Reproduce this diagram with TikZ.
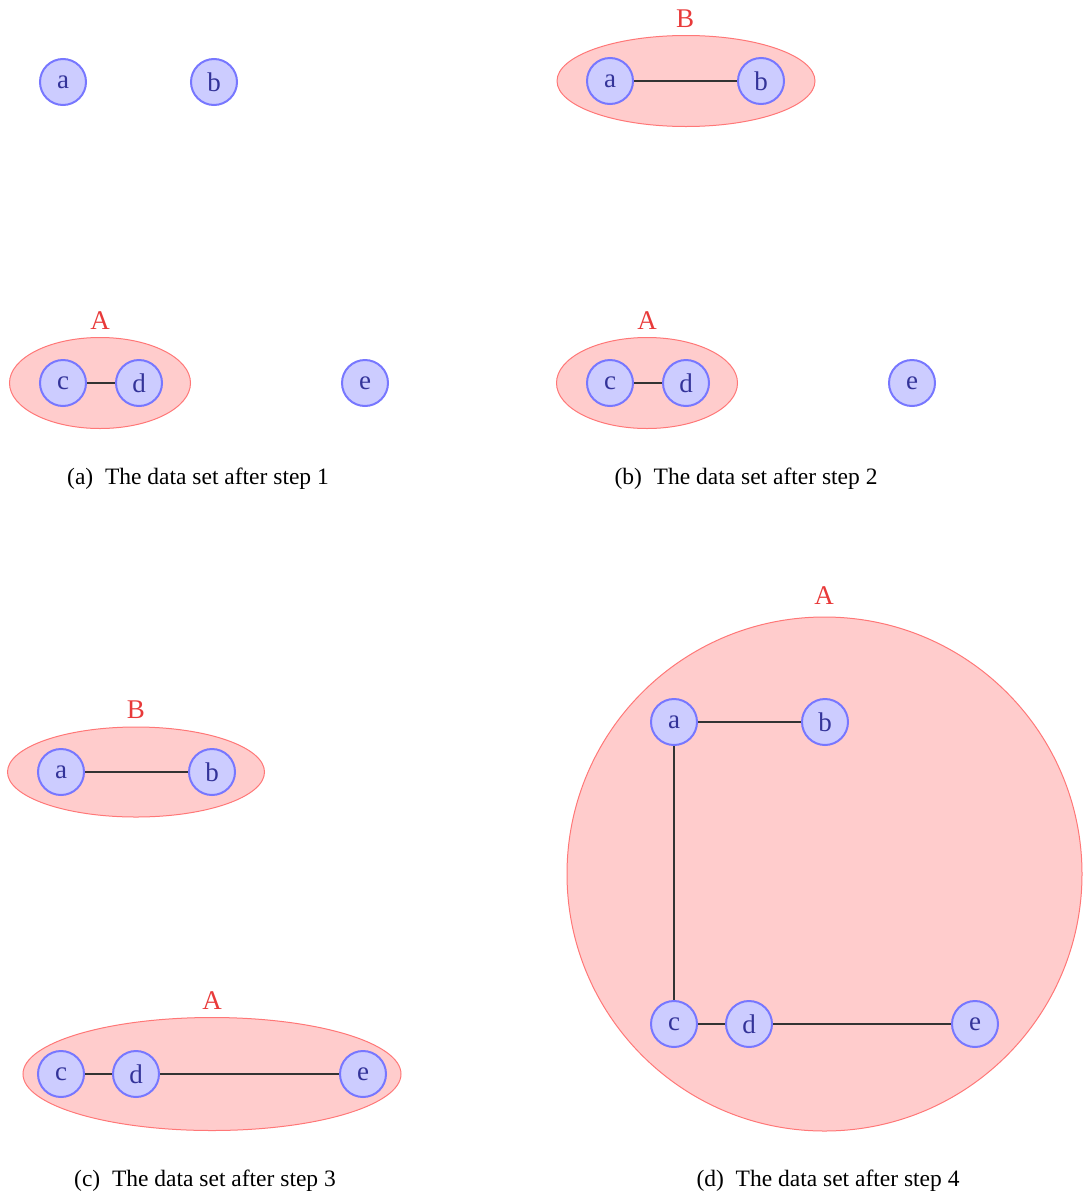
\documentclass[tikz,border=0pt]{standalone}
\usepackage{fontspec}
\setmainfont{Liberation Serif}
\usetikzlibrary{shapes.geometric}
\definecolor{nfill}{HTML}{CCCCFF}
\definecolor{ndraw}{HTML}{7777FF}
\definecolor{ntext}{HTML}{333399}
\definecolor{cfill}{HTML}{FFCCCC}
\definecolor{cdraw}{HTML}{FF7777}
\definecolor{clabel}{HTML}{E83A3A}
\tikzset{
  vtx/.style={circle, draw=ndraw, fill=nfill, line width=2pt, minimum size=46pt, inner sep=0pt, text=ntext, font=\fontsize{27}{30}\selectfont},
  clus/.style={ellipse, draw=cdraw, fill=cfill, line width=1pt, inner sep=0pt},
  clab/.style={text=clabel, font=\fontsize{27}{30}\selectfont},
  link/.style={draw=black!80, line width=1.3pt},
  captext/.style={font=\fontsize{23.5}{26}\selectfont}
}
\begin{document}
\begin{tikzpicture}[x=1pt,y=-1pt]
\useasboundingbox (0,0) rectangle (1086,1197);
% ---------- panel (a)
\node[clus, minimum width=181pt, minimum height=91pt] (aA) at (100,383) {};
\node[clab] (aAl) at (100,321) {A};
\node[vtx] (aa) at (63,82) {a};
\node[vtx] (ab) at (214,82) {b};
\node[vtx] (ac) at (63,383) {c};
\node[vtx] (ad) at (139,383) {d};
\node[vtx] (ae) at (365,383) {e};
\draw[link] (ac) -- (ad);
\node[captext] (capa) at (198,479) {(a)\enspace The data set after step 1};
% ---------- panel (b)
\node[clus, minimum width=258pt, minimum height=91pt] (bB) at (686,81) {};
\node[clab] (bBl) at (685,19) {B};
\node[clus, minimum width=181pt, minimum height=91pt] (bA) at (647,383) {};
\node[clab] (bAl) at (647,321) {A};
\node[vtx] (ba) at (610,81) {a};
\node[vtx] (bb) at (761,81) {b};
\node[vtx] (bc) at (610,383) {c};
\node[vtx] (bd) at (686,383) {d};
\node[vtx] (be) at (912,383) {e};
\draw[link] (ba) -- (bb);
\draw[link] (bc) -- (bd);
\node[captext] (capb) at (746,479) {(b)\enspace The data set after step 2};
% ---------- panel (c)
\node[clus, minimum width=257pt, minimum height=90pt] (cB) at (136,772) {};
\node[clab] (cBl) at (136,710) {B};
\node[clus, minimum width=378pt, minimum height=113pt] (cA) at (212,1074) {};
\node[clab] (cAl) at (212,1001) {A};
\node[vtx] (ca) at (61,772) {a};
\node[vtx] (cb) at (212,772) {b};
\node[vtx] (cc) at (61,1074) {c};
\node[vtx] (cd) at (136,1074) {d};
\node[vtx] (ce) at (363,1074) {e};
\draw[link] (ca) -- (cb);
\draw[link] (cc) -- (cd);
\draw[link] (cd) -- (ce);
\node[captext] (capc) at (205,1181) {(c)\enspace The data set after step 3};
% ---------- panel (d)
\node[clus, minimum width=515pt, minimum height=514pt] (dA) at (824.5,874) {};
\node[clab] (dAl) at (824,596) {A};
\node[vtx] (da) at (674,722) {a};
\node[vtx] (db) at (825,722) {b};
\node[vtx] (dc) at (674,1024) {c};
\node[vtx] (dd) at (749,1024) {d};
\node[vtx] (de) at (975,1024) {e};
\draw[link] (da) -- (db);
\draw[link] (da) -- (dc);
\draw[link] (dc) -- (dd);
\draw[link] (dd) -- (de);
\node[captext] (capd) at (828,1181) {(d)\enspace The data set after step 4};
\end{tikzpicture}
\end{document}
